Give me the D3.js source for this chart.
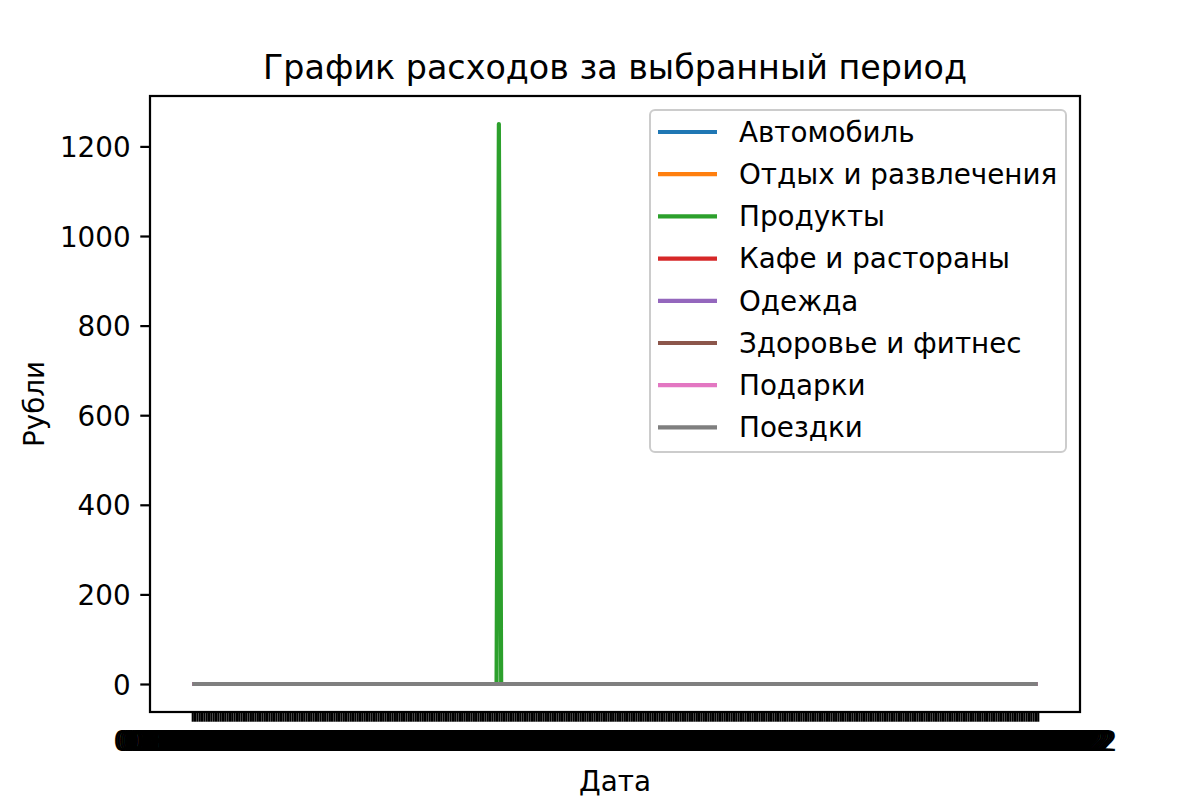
<!DOCTYPE html>
<html>
<head>
<meta charset="utf-8">
<script src="https://cdn.jsdelivr.net/npm/d3@7"></script>
<style>
  html, body { margin: 0; padding: 0; background: #fff; }
  svg text { font-family: "DejaVu Sans", sans-serif; fill: #000; }
</style>
</head>
<body>
<svg id="chart" width="1200" height="800"></svg>
<script>
// ---- Data ----
const titleText = "График расходов за выбранный период";
const xLabelText = "Дата";
const yLabelText = "Рубли";

const categories = [
  "Автомобиль",
  "Отдых и развлечения",
  "Продукты",
  "Кафе и расторана",
  "Одежда",
  "Здоровье и фитнес",
  "Подарки",
  "Поездки"
];
categories[3] = "Кафе и расторан\u044b";

const seriesColors = ["#1f77b4", "#ff7f0e", "#2ca02c", "#d62728", "#9467bd", "#8c564b", "#e377c2", "#7f7f7f"];

// Period shown on the x axis (one category per day)
const periodStart = "01.01.2022";
const periodEnd = "31.12.2022";

// Non-zero expenses (every other day is 0)
const readings = [
  { category: "Продукты", date: "13.05.2022", value: 1250 }
];

const yTicks = [0, 200, 400, 600, 800, 1000, 1200];

// ---- Build tables ----
const parse = d3.timeParse("%d.%m.%Y");
const fmt = d3.timeFormat("%d.%m.%Y");
const dates = d3.timeDay.range(parse(periodStart), d3.timeDay.offset(parse(periodEnd), 1)).map(fmt);

const series = categories.map((name, i) => {
  const own = new Map(readings.filter(r => r.category === name).map(r => [r.date, r.value]));
  return { name, color: seriesColors[i], values: dates.map((d, j) => ({ idx: j, date: d, value: own.get(d) || 0 })) };
});

// ---- Layout (matplotlib 6x4in @200dpi) ----
const W = 1200, H = 800;
const ax = { left: 150, right: 1080, top: 96, bottom: 712 };
const fs = 27.78;          // 10pt
const tickLen = 9.72, tickPad = 9.72, lw = 4.17, spineW = 2.22;

const svg = d3.select("#chart");

const n = dates.length;
const xPad = (n - 1) * 0.05;
const x = d3.scaleLinear().domain([-xPad, (n - 1) + xPad]).range([ax.left, ax.right]);
const yMax = d3.max(readings, r => r.value);
const yPad = yMax * 0.05;
const y = d3.scaleLinear().domain([-yPad, yMax + yPad]).range([ax.bottom, ax.top]);

// Lines
const line = d3.line().x(d => x(d.idx)).y(d => y(d.value));
const gLines = svg.append("g");
series.forEach(s => {
  gLines.append("path")
    .datum(s.values)
    .attr("d", line)
    .attr("fill", "none")
    .attr("stroke", s.color)
    .attr("stroke-width", lw)
    .attr("stroke-linejoin", "round")
    .attr("stroke-linecap", "butt");
});

// Spines
svg.append("rect")
  .attr("x", ax.left).attr("y", ax.top)
  .attr("width", ax.right - ax.left).attr("height", ax.bottom - ax.top)
  .attr("fill", "none").attr("stroke", "#000").attr("stroke-width", spineW);

// Y axis
const yAxis = d3.axisLeft(y).tickValues(yTicks).tickSize(tickLen).tickPadding(tickPad).tickFormat(d3.format("d"));
const gy = svg.append("g").attr("transform", `translate(${ax.left},0)`).call(yAxis);
gy.select(".domain").remove();
gy.selectAll(".tick line").attr("stroke", "#000").attr("stroke-width", spineW);
gy.selectAll(".tick text").attr("font-size", fs).attr("font-family", "DejaVu Sans").attr("dy", "0.36em").attr("fill", "#000");

// X axis (categorical dates)
const xAxis = d3.axisBottom(x).tickValues(d3.range(n)).tickSize(tickLen).tickPadding(tickPad).tickFormat(i => dates[i]);
const gx = svg.append("g").attr("transform", `translate(0,${ax.bottom})`).call(xAxis);
gx.select(".domain").remove();
gx.selectAll(".tick line").attr("stroke", "#000").attr("stroke-width", spineW);
gx.selectAll(".tick text").attr("font-size", fs).attr("font-family", "DejaVu Sans").attr("dy", "0.72em").attr("fill", "#000");

// Title
svg.append("text")
  .attr("x", (ax.left + ax.right) / 2).attr("y", 79)
  .attr("text-anchor", "middle").attr("font-size", 33.33)
  .text(titleText);

// Axis labels
svg.append("text")
  .attr("x", (ax.left + ax.right) / 2).attr("y", 791)
  .attr("text-anchor", "middle").attr("font-size", fs)
  .text(xLabelText);

svg.append("text")
  .attr("transform", `translate(44,${(ax.top + ax.bottom) / 2}) rotate(-90)`)
  .attr("text-anchor", "middle").attr("font-size", fs)
  .text(yLabelText);

// Legend
const leg = { x: 650, y: 110, w: 416, h: 342, rowH: 42.2, firstRow: 132 };
const gLeg = svg.append("g");
gLeg.append("rect")
  .attr("x", leg.x).attr("y", leg.y).attr("width", leg.w).attr("height", leg.h)
  .attr("rx", 5).attr("ry", 5)
  .attr("fill", "#fff").attr("fill-opacity", 0.8)
  .attr("stroke", "#cccccc").attr("stroke-width", 2);
series.forEach((s, i) => {
  const cy = leg.firstRow + i * leg.rowH;
  gLeg.append("line")
    .attr("x1", 658).attr("x2", 717).attr("y1", cy).attr("y2", cy)
    .attr("stroke", s.color).attr("stroke-width", lw);
  gLeg.append("text")
    .attr("x", 739).attr("y", cy + 9.7)
    .attr("font-size", fs)
    .text(s.name);
});
</script>
</body>
</html>
